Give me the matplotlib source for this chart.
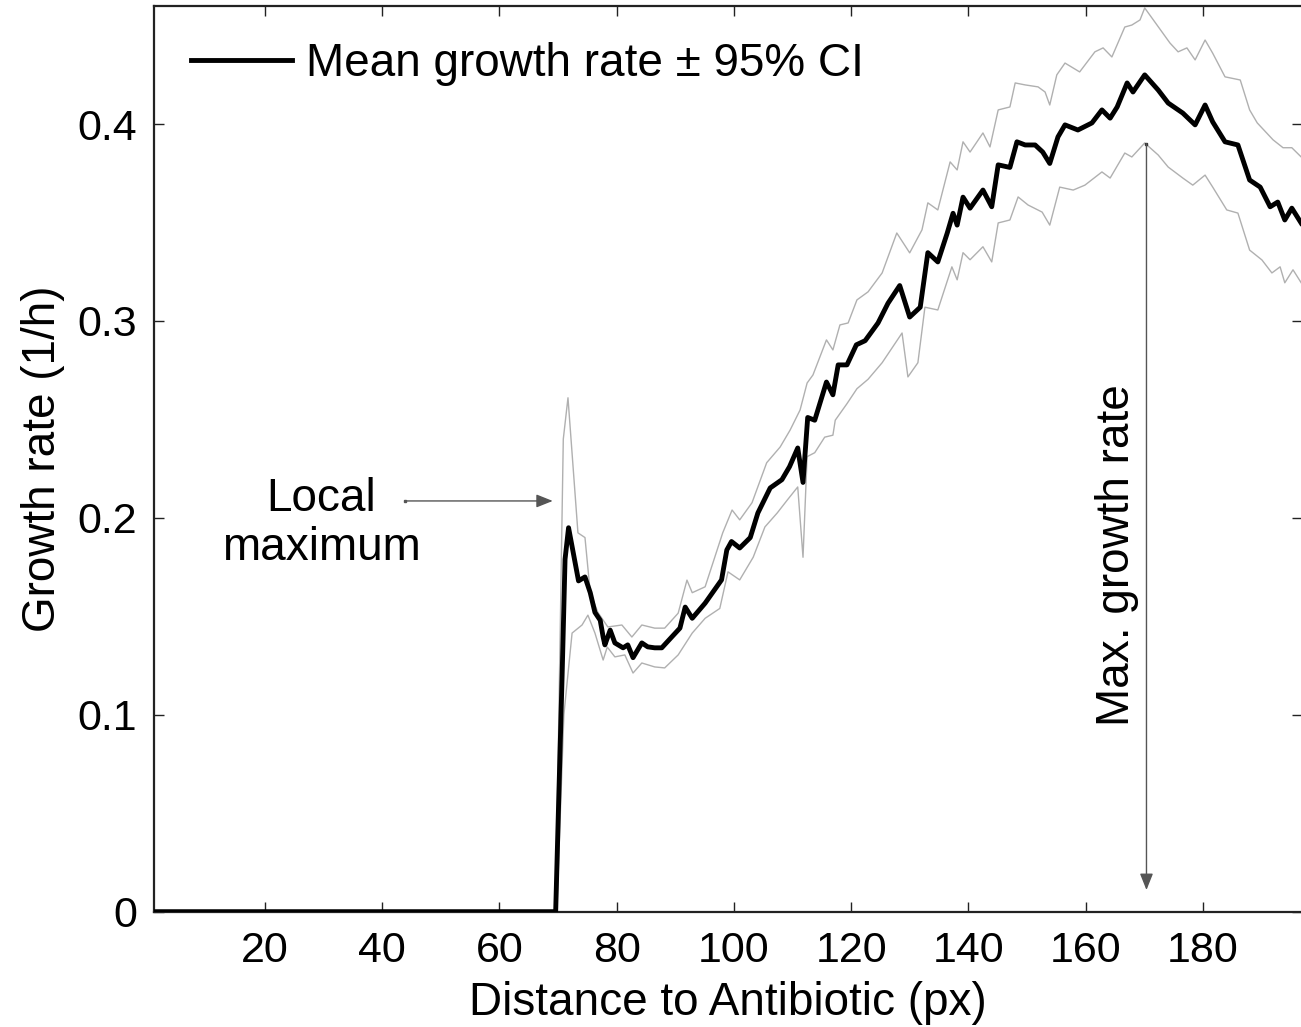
import matplotlib
matplotlib.use("Agg")
import matplotlib.pyplot as plt

plt.rcParams['font.family'] = ['Liberation Sans', 'DejaVu Sans']

# mean growth rate along the distance axis
x_mean = [1, 69.6, 70.7, 71.2, 71.8, 73.5, 74.6, 75.5, 76.3, 77.2, 77.7, 78.0, 78.9,
          79.7, 81.1, 81.9, 82.8, 84.3, 85.3, 86.5, 87.7, 89.4, 90.8, 91.7, 92.9,
          95.1, 97.9, 98.8, 99.6, 101.0, 102.8, 104.1, 106.2, 108.2, 109.5, 110.9,
          111.8, 112.6, 113.8, 115.8, 116.9, 117.8, 119.3, 120.9, 122.4, 124.6,
          126.3, 128.3, 130.0, 131.8, 133.1, 134.8, 136.4, 137.4, 138.1, 139.1,
          140.3, 142.5, 144.0, 145.1, 147.1, 148.3, 149.7, 151.4, 152.7, 153.9,
          155.3, 156.5, 158.7, 161.1, 162.8, 164.2, 165.4, 167.1, 168.1, 170.1,
          172.4, 174.1, 176.6, 178.7, 180.4, 181.7, 183.8, 186.0, 188.0, 189.8,
          191.5, 192.8, 194.0, 195.2, 196.8]
y_mean = [0, 0, 0.120, 0.179, 0.195, 0.168, 0.170, 0.162, 0.152, 0.148, 0.1395, 0.1355,
          0.143, 0.1365, 0.134, 0.1355, 0.129, 0.1365, 0.1345, 0.134, 0.134, 0.1395,
          0.144, 0.1547, 0.149, 0.1567, 0.1685, 0.1837, 0.188, 0.1847, 0.190, 0.2025,
          0.2152, 0.2194, 0.226, 0.2355, 0.218, 0.251, 0.2496, 0.269, 0.2625, 0.2777,
          0.2777, 0.2879, 0.290, 0.299, 0.309, 0.318, 0.302, 0.307, 0.3347, 0.330,
          0.3446, 0.3547, 0.3487, 0.3629, 0.3573, 0.3665, 0.358, 0.3793, 0.378, 0.391,
          0.3894, 0.3894, 0.3858, 0.380, 0.3935, 0.3996, 0.397, 0.4006, 0.4072, 0.403,
          0.4087, 0.4209, 0.4163, 0.425, 0.4173, 0.4107, 0.4056, 0.3996, 0.4097,
          0.4011, 0.391, 0.3894, 0.3716, 0.368, 0.358, 0.3604, 0.3513, 0.3573, 0.3497]

# upper bound of the 95% confidence interval
x_upper = [1, 69.6, 70.9, 71.7, 73.4, 74.6, 75.5, 76.8, 78.5, 80.9, 82.6, 84.3, 86.5,
           88.2, 90.5, 92.0, 92.9, 95.1, 98.1, 99.7, 101.0, 103.1, 105.6, 107.9, 109.6,
           111.3, 112.5, 113.5, 115.8, 116.9, 118.1, 119.5, 121.0, 122.9, 125.3, 127.8,
           130.0, 132.1, 133.1, 134.8, 136.9, 138.1, 139.1, 140.3, 142.5, 143.7, 145.1,
           147.1, 148.0, 149.7, 151.9, 153.1, 153.9, 155.1, 156.5, 159.0, 161.6, 163.0,
           164.5, 166.7, 167.9, 169.3, 170.1, 174.4, 175.8, 177.3, 178.7, 180.4, 181.7,
           183.8, 186.4, 188.0, 189.3, 192.0, 193.7, 195.2, 196.8]
y_upper = [0, 0, 0.240, 0.261, 0.1924, 0.190, 0.162, 0.152, 0.1446, 0.1456, 0.1395,
           0.1456, 0.144, 0.144, 0.1516, 0.1684, 0.162, 0.165, 0.1924, 0.204, 0.199,
           0.2077, 0.228, 0.236, 0.2446, 0.2548, 0.2685, 0.2726, 0.2904, 0.2853, 0.298,
           0.299, 0.3107, 0.3148, 0.3244, 0.3447, 0.3346, 0.3463, 0.360, 0.3564, 0.3808,
           0.3767, 0.391, 0.3858, 0.3955, 0.3884, 0.4072, 0.4087, 0.4209, 0.4199, 0.4189,
           0.4163, 0.4097, 0.425, 0.431, 0.4265, 0.4367, 0.4387, 0.4341, 0.4493, 0.4503,
           0.4529, 0.459, 0.4412, 0.4367, 0.4387, 0.4326, 0.4427, 0.436, 0.424, 0.4224,
           0.4072, 0.4006, 0.392, 0.388, 0.388, 0.3833]

# lower bound of the 95% confidence interval
x_lower = [1, 69.8, 71.0, 72.4, 74.1, 75.1, 76.3, 77.7, 78.4, 79.7, 81.4, 82.8, 84.3,
           86.5, 88.2, 90.5, 92.9, 95.1, 97.6, 99.0, 101.0, 103.3, 105.3, 107.4, 109.1,
           110.9, 111.8, 112.5, 113.8, 115.5, 116.9, 117.3, 119.3, 121.0, 122.9, 125.3,
           128.7, 129.7, 131.4, 132.6, 134.8, 137.2, 138.1, 139.1, 140.3, 142.5, 144.0,
           145.1, 147.1, 148.5, 150.2, 152.6, 153.9, 155.6, 157.9, 159.9, 162.8, 164.2,
           166.7, 167.9, 170.1, 172.4, 174.1, 176.6, 178.3, 180.4, 181.7, 184.1, 186.0,
           188.0, 190.1, 191.8, 193.2, 194.0, 195.4, 196.8]
y_lower = [0, 0, 0.100, 0.1415, 0.1456, 0.1506, 0.1415, 0.1278, 0.1344, 0.1294, 0.1304,
           0.1212, 0.1263, 0.1243, 0.1238, 0.1304, 0.1415, 0.149, 0.154, 0.1726, 0.1685,
           0.180, 0.1954, 0.2025, 0.209, 0.2157, 0.180, 0.2311, 0.2331, 0.241, 0.242,
           0.2496, 0.258, 0.2656, 0.2704, 0.2788, 0.2939, 0.2716, 0.2788, 0.307, 0.3056,
           0.3275, 0.3209, 0.3347, 0.3311, 0.3377, 0.330, 0.3498, 0.3513, 0.363, 0.3589,
           0.3553, 0.3487, 0.368, 0.3665, 0.369, 0.3757, 0.3726, 0.3853, 0.3833, 0.3904,
           0.3843, 0.3782, 0.3726, 0.369, 0.3741, 0.368, 0.3564, 0.3548, 0.336, 0.331,
           0.3244, 0.3275, 0.3194, 0.326, 0.3194]

x_ticks = [20, 40, 60, 80, 100, 120, 140, 160, 180]
y_ticks = [0, 0.1, 0.2, 0.3, 0.4]
y_tick_labels = ['0', '0.1', '0.2', '0.3', '0.4']

tick_fs = 31
text_fs = 33

fig = plt.figure(figsize=(13.01, 10.27), dpi=100)
ax = fig.add_axes([0.11806, 0.1123, 0.883, 0.8819])

ax.plot(x_upper, y_upper, color='#b0b0b0', lw=1.0, zorder=2)
ax.plot(x_lower, y_lower, color='#b0b0b0', lw=1.0, zorder=2)
ax.plot(x_mean, y_mean, color='black', lw=3.5, zorder=3,
        label='Mean growth rate \u00b1 95% CI')

ax.set_xlim(1, 197)
ax.set_ylim(0, 0.46)
ax.set_xticks(x_ticks)
ax.set_yticks(y_ticks)
ax.set_yticklabels(y_tick_labels)
ax.tick_params(direction='in', length=7, width=1.0, labelsize=tick_fs,
               top=True, right=True, colors='#222222', labelcolor='black')
ax.tick_params(axis='x', pad=14)
ax.tick_params(axis='y', pad=12)
for s in ax.spines.values():
    s.set_linewidth(1.6)
    s.set_color('#222222')

ax.set_xlabel('Distance to Antibiotic (px)', fontsize=text_fs, labelpad=7)
ax.set_ylabel('Growth rate (1/h)', fontsize=text_fs, labelpad=9)

ax.legend(loc='center left', bbox_to_anchor=(0.0325, 0.936), frameon=False,
          fontsize=text_fs, handlelength=2.2, handletextpad=0.3,
          borderpad=0, borderaxespad=0)

# local maximum annotation
ax.text(29.6, 0.197, 'Local\nmaximum', fontsize=text_fs, ha='center', va='center',
        linespacing=1.15)
ax.annotate('', xy=(69.1, 0.2086), xytext=(43.9, 0.2086),
            arrowprops=dict(arrowstyle='-|>,head_length=0.5,head_width=0.2',
                            color='#555555', lw=1.0, mutation_scale=20,
                            shrinkA=0, shrinkB=0))
ax.plot([43.9], [0.2086], marker='s', ms=2, color='#555555')

# global maximum annotation
ax.text(165.4, 0.181, 'Max. growth rate', fontsize=text_fs, ha='center', va='center',
        rotation=90)
ax.annotate('', xy=(170.4, 0.011), xytext=(170.4, 0.39),
            arrowprops=dict(arrowstyle='-|>,head_length=0.5,head_width=0.2',
                            color='#555555', lw=1.0, mutation_scale=20,
                            shrinkA=0, shrinkB=0))
ax.plot([170.4], [0.39], marker='s', ms=2, color='#333333')

fig.savefig('out.png', dpi=100)
